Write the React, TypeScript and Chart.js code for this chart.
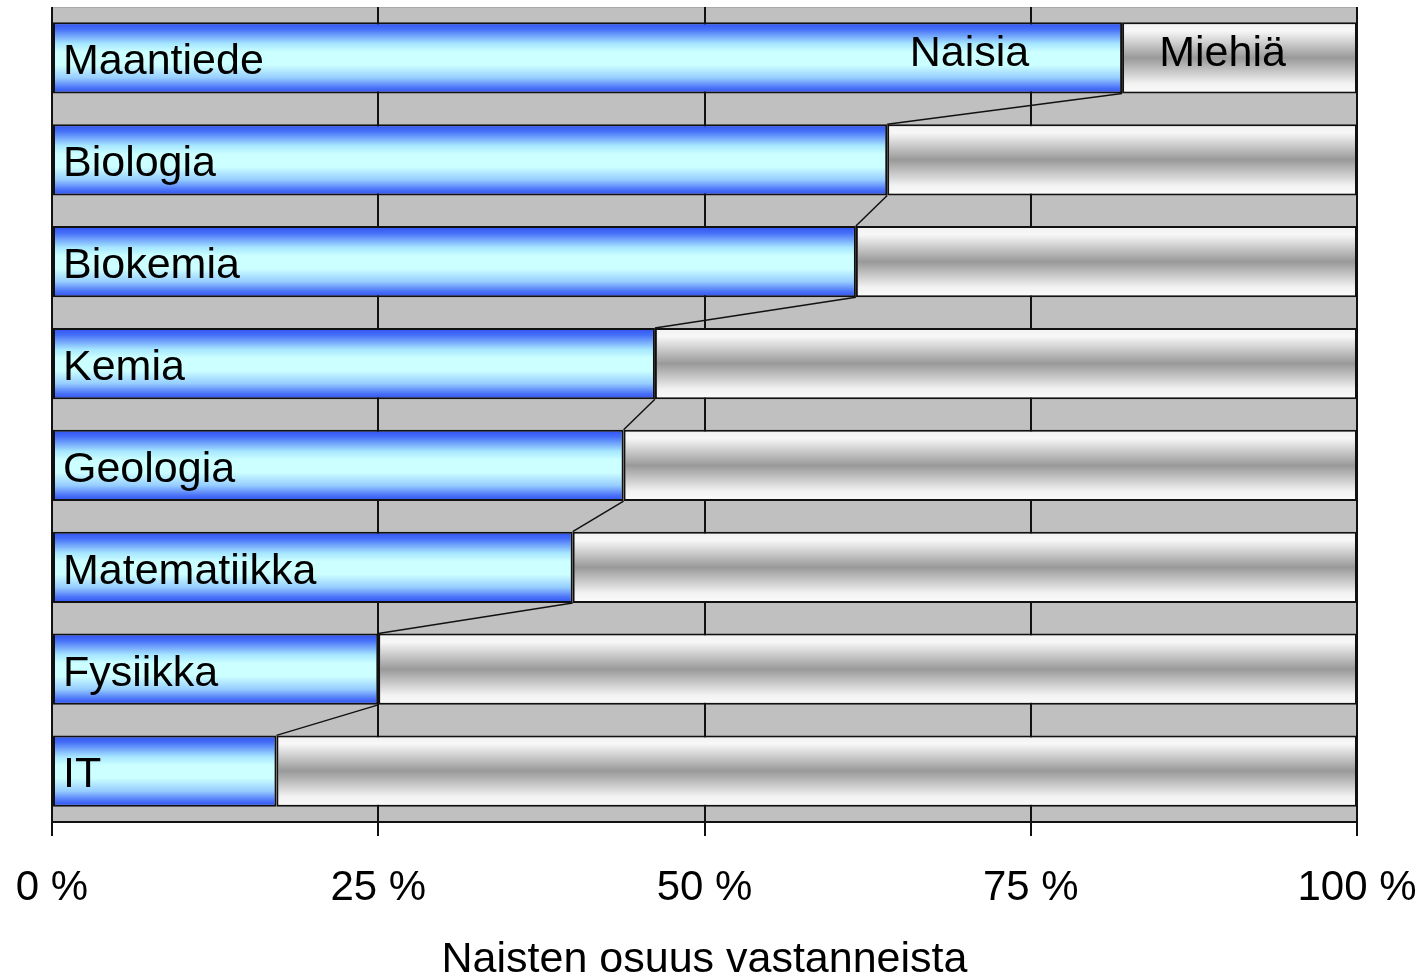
import { useEffect, useRef } from 'react';
import { Chart, registerables } from 'chart.js';

Chart.register(...registerables);

// Share of women among respondents, by field of study
const CATEGORIES = ['Maantiede', 'Biologia', 'Biokemia', 'Kemia', 'Geologia', 'Matematiikka', 'Fysiikka', 'IT'];
const WOMEN = [82, 64, 61.6, 46.2, 43.8, 39.9, 25, 17.2];
const MEN = [18, 36, 38.4, 53.8, 56.2, 60.1, 75, 82.8];
const SERIES_NAMES = ['Naisia', 'Miehiä'];
// x-values (percent) where the series names sit inside the top bar
const SERIES_NAME_AT = [70.3, 89.7];
const X_TITLE = 'Naisten osuus vastanneista';

const FONT = "'Liberation Sans', Arial, sans-serif";
const LABEL_SIZE = 43;
const TICK_SIZE = 42;
const BAR_PCT = 0.7;

const BLUE_STOPS: [number, string][] = [
  [0, '#2f4ff0'],
  [0.1, '#4670f8'],
  [0.3, '#a6e6ff'],
  [0.42, '#ccffff'],
  [0.6, '#ccffff'],
  [0.78, '#96cdff'],
  [0.92, '#4a72f8'],
  [1, '#2f4ff0'],
];
const GRAY_STOPS: [number, string][] = [
  [0, '#f2f2f2'],
  [0.12, '#f7f7f7'],
  [0.5, '#999999'],
  [0.86, '#f2f2f2'],
  [1, '#fbfbfb'],
];

const barGradient = (stops: [number, string][]) => (c: any) => {
  const fallback = stops[Math.floor(stops.length / 2)][1];
  const chart = c.chart;
  const y = chart.scales && chart.scales.y;
  if (!y || c.dataIndex === undefined) return fallback;
  const center = y.getPixelForValue(c.dataIndex);
  const half = ((y.bottom - y.top) / CATEGORIES.length) * BAR_PCT / 2;
  if (!Number.isFinite(center) || !Number.isFinite(half) || half <= 0) return fallback;
  const g = chart.ctx.createLinearGradient(0, center - half, 0, center + half);
  stops.forEach(([o, col]) => g.addColorStop(o, col));
  return g;
};

const plotBackground = {
  id: 'plotBackground',
  beforeDraw(chart: any) {
    const { ctx, chartArea: a } = chart;
    ctx.save();
    ctx.fillStyle = '#c0c0c0';
    ctx.fillRect(a.left, a.top, a.right - a.left, a.bottom - a.top);
    ctx.strokeStyle = '#a9a9a9';
    ctx.lineWidth = 1;
    ctx.strokeRect(a.left + 0.5, a.top + 0.5, a.right - a.left, a.bottom - a.top);
    ctx.restore();
  },
};

// Connector lines between the ends of consecutive women's bars
const seriesLines = {
  id: 'seriesLines',
  afterDatasetsDraw(chart: any) {
    const meta = chart.getDatasetMeta(0);
    const { ctx } = chart;
    ctx.save();
    ctx.strokeStyle = '#111';
    ctx.lineWidth = 1.5;
    for (let i = 0; i < meta.data.length - 1; i++) {
      const a = meta.data[i];
      const b = meta.data[i + 1];
      ctx.beginPath();
      ctx.moveTo(a.x, a.y + a.height / 2);
      ctx.lineTo(b.x, b.y - b.height / 2);
      ctx.stroke();
    }
    ctx.restore();
  },
};

// Category names inside the bars and series names in the top bar
const barTexts = {
  id: 'barTexts',
  afterDatasetsDraw(chart: any) {
    const meta = chart.getDatasetMeta(0);
    const { ctx, chartArea } = chart;
    const capHalf = LABEL_SIZE * 0.716 / 2;
    ctx.save();
    ctx.fillStyle = '#000';
    ctx.font = `${LABEL_SIZE}px ${FONT}`;
    ctx.textBaseline = 'alphabetic';
    ctx.textAlign = 'left';
    meta.data.forEach((el: any, i: number) => {
      ctx.fillText(CATEGORIES[i], chartArea.left + 11, el.y + capHalf + 1);
    });
    const top = meta.data[0];
    ctx.textAlign = 'center';
    SERIES_NAMES.forEach((name, i) => {
      const x = chart.scales.x.getPixelForValue(SERIES_NAME_AT[i]);
      ctx.fillText(name, x, top.y + capHalf - 7);
    });
    ctx.restore();
  },
};

export default function App() {
  const ref = useRef<HTMLCanvasElement>(null);

  useEffect(() => {
    if (!ref.current) return;
    const chart = new Chart(ref.current, {
      type: 'bar',
      data: {
        labels: CATEGORIES,
        datasets: [
          {
            label: SERIES_NAMES[0],
            data: WOMEN,
            backgroundColor: barGradient(BLUE_STOPS),
            borderColor: '#111',
            borderWidth: 2,
            borderSkipped: false,
            barPercentage: BAR_PCT,
            categoryPercentage: 1,
          },
          {
            label: SERIES_NAMES[1],
            data: MEN,
            backgroundColor: barGradient(GRAY_STOPS),
            borderColor: '#111',
            borderWidth: 2,
            borderSkipped: false,
            barPercentage: BAR_PCT,
            categoryPercentage: 1,
          },
        ],
      },
      options: {
        indexAxis: 'y',
        animation: false,
        responsive: true,
        maintainAspectRatio: false,
        layout: { padding: { left: 52, right: 67, top: 7, bottom: 0 } },
        plugins: {
          legend: { display: false },
          tooltip: { enabled: false },
        },
        scales: {
          x: {
            stacked: true,
            min: 0,
            max: 100,
            afterFit: (scale: any) => {
              scale.height = 158;
            },
            ticks: {
              stepSize: 25,
              padding: 0,
              color: '#000',
              font: { family: FONT, size: TICK_SIZE, lineHeight: 104 / TICK_SIZE },
              maxRotation: 0,
              callback: (v: any) => `${v} %`,
            },
            grid: {
              color: '#111',
              lineWidth: 2,
              tickLength: 14,
              tickColor: '#111',
              tickWidth: 2,
            },
            border: { display: true, color: '#111', width: 2 },
            title: {
              display: true,
              text: X_TITLE,
              color: '#000',
              font: { family: FONT, size: LABEL_SIZE, lineHeight: 0.92 },
              padding: 0,
            },
          },
          y: {
            stacked: true,
            display: false,
          },
        },
      },
      plugins: [plotBackground, seriesLines, barTexts],
    });
    return () => chart.destroy();
  }, []);

  return (
    <div style={{ position: 'fixed', left: 0, top: 0, width: 1424, height: 980, background: '#fff' }}>
      <canvas ref={ref} />
    </div>
  );
}
